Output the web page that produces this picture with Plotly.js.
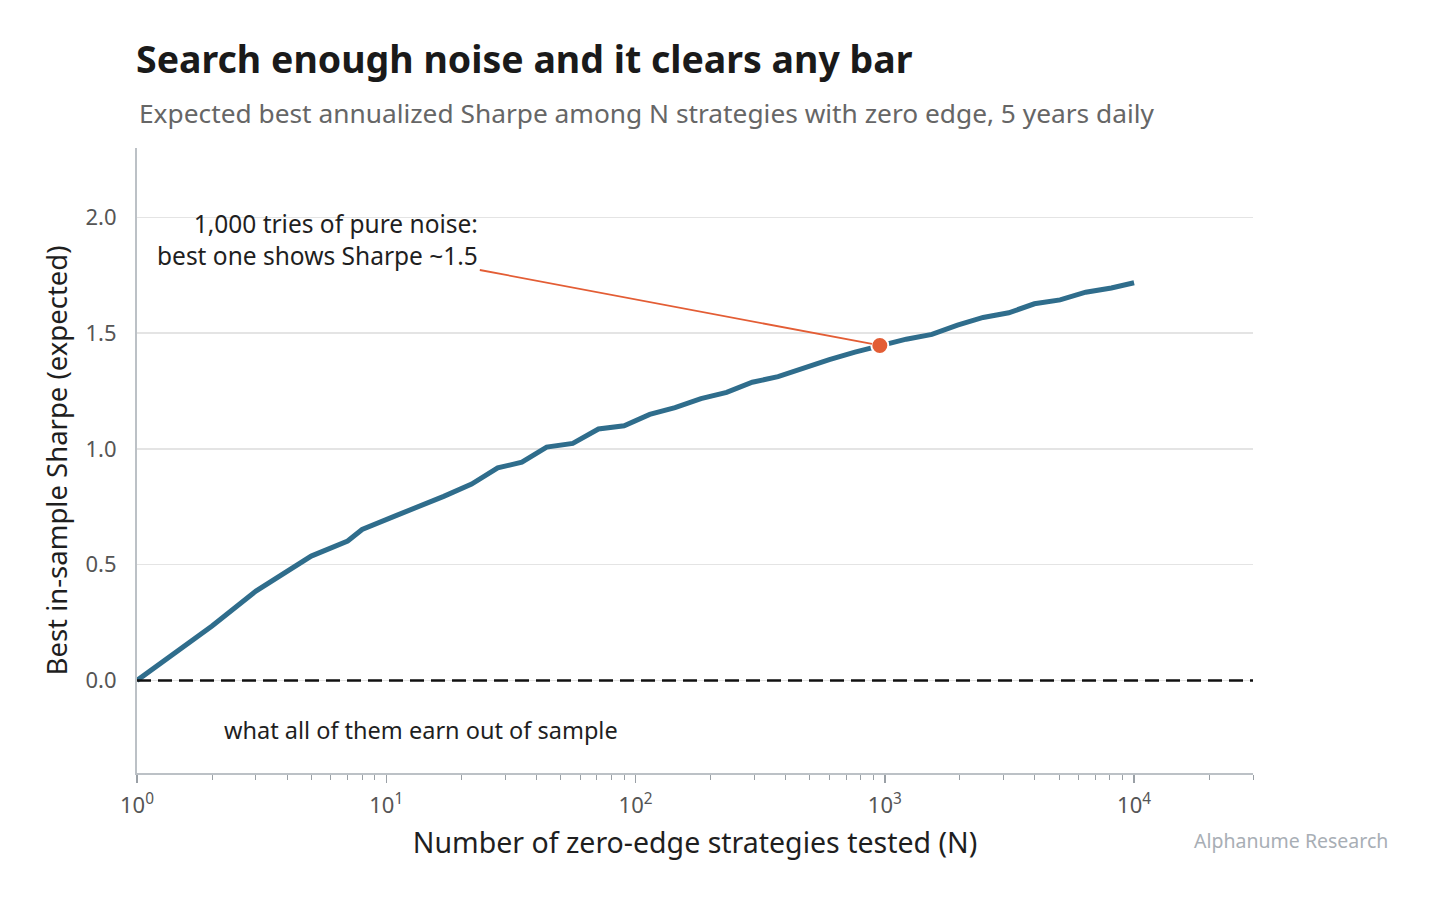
<!DOCTYPE html>
<html>
<head>
<meta charset="utf-8">
<script src="https://cdn.plot.ly/plotly-3.0.1.min.js"></script>
<style>
  html, body { margin: 0; padding: 0; background: #fff; }
  #chart { width: 1434px; height: 905px; }
</style>
</head>
<body>
<div id="chart"></div>
<script>
// N values tested (rounded log-spaced grid)
var nTested = [1, 2, 3, 4, 5, 7, 8, 11, 14, 17, 22, 28, 35, 44, 56, 71, 90,
  114, 144, 183, 232, 294, 373, 472, 599, 759, 962, 1219, 1545, 1957, 2480,
  3143, 3983, 5048, 6397, 8106, 10000];

// expected best in-sample Sharpe
var bestSharpe = [0.00, 0.235, 0.386, 0.472, 0.537, 0.602, 0.652, 0.713, 0.756,
  0.795, 0.848, 0.918, 0.943, 1.008, 1.024, 1.086, 1.100, 1.149, 1.178, 1.217,
  1.244, 1.288, 1.312, 1.351, 1.386, 1.418, 1.448, 1.474, 1.495, 1.535, 1.568,
  1.588, 1.627, 1.644, 1.677, 1.695, 1.718];

// highlighted point
var markN = [955];
var markSharpe = [1.447];

var xTickVals = [1, 10, 100, 1000, 10000];
var xTickText = ['10<sup>0</sup>', '10<sup>1</sup>', '10<sup>2</sup>', '10<sup>3</sup>', '10<sup>4</sup>'];

var minorVals = [];
for (var p = 0; p <= 4; p++) {
  for (var m = 2; m <= 9; m++) {
    if (m * Math.pow(10, p) <= 30000) minorVals.push(m * Math.pow(10, p));
  }
}

var FONT = 'Noto Sans, Open Sans, sans-serif';

var traceLine = {
  x: nTested,
  y: bestSharpe,
  type: 'scatter',
  mode: 'lines',
  line: { color: '#2f6d8c', width: 5 },
  hoverinfo: 'skip'
};

var traceMark = {
  x: markN,
  y: markSharpe,
  type: 'scatter',
  mode: 'markers',
  marker: { color: '#e35d35', size: 17, line: { color: '#ffffff', width: 2 } },
  hoverinfo: 'skip'
};

var layout = {
  width: 1434,
  height: 905,
  paper_bgcolor: '#ffffff',
  plot_bgcolor: '#ffffff',
  showlegend: false,
  margin: { l: 137, r: 181, t: 148, b: 132 },
  font: { family: FONT, color: '#333' },
  title: {
    text: '<b>Search enough noise and it clears any bar</b>',
    font: { family: FONT, size: 37.5, color: '#1a1a1a' },
    x: 136 / 1434, xanchor: 'left', xref: 'container',
    y: 1 - 60 / 905, yanchor: 'middle', yref: 'container'
  },
  xaxis: {
    type: 'log',
    range: [0, Math.log10(30000)],
    tickmode: 'array',
    tickvals: xTickVals,
    ticktext: xTickText,
    ticks: 'outside',
    ticklen: 8,
    tickwidth: 1.5,
    tickcolor: '#9aa0a6',
    ticklabelstandoff: 4,
    tickfont: { size: 22, color: '#555' },
    minor: { ticks: 'outside', ticklen: 5, tickwidth: 1, tickcolor: '#9aa0a6',
      tickmode: 'array', tickvals: minorVals, showgrid: false },
    showline: true,
    linecolor: '#bcc1c6',
    linewidth: 2,
    showgrid: false,
    zeroline: false,
    title: { text: 'Number of zero-edge strategies tested (N)', font: { size: 28.5, color: '#1f1f1f' }, standoff: 15 }
  },
  yaxis: {
    range: [-0.4, 2.3],
    tickvals: [0, 0.5, 1.0, 1.5, 2.0],
    tickformat: '.1f',
    ticks: '',
    ticklabelstandoff: 14,
    tickfont: { size: 22, color: '#555' },
    showline: true,
    linecolor: '#bcc1c6',
    linewidth: 2,
    showgrid: true,
    gridcolor: '#e4e4e4',
    gridwidth: 1.5,
    zeroline: false,
    title: { text: 'Best in-sample Sharpe (expected)', font: { size: 27.5, color: '#1f1f1f' }, standoff: 10 }
  },
  shapes: [
    { type: 'line', xref: 'paper', yref: 'y', x0: 0, x1: 1, y0: 0, y1: 0,
      line: { color: '#111', width: 2.5, dash: '14px,7px' }, layer: 'above' }
  ],
  annotations: [
    { xref: 'paper', yref: 'paper', x: 0, y: 1 + 35 / 625, xanchor: 'left', yanchor: 'middle',
      text: 'Expected best annualized Sharpe among N strategies with zero edge, 5 years daily',
      showarrow: false, font: { size: 26.3, color: '#666' } },
    { x: Math.log10(markN[0]), y: markSharpe[0], xref: 'x', yref: 'y',
      text: '1,000 tries of pure noise:<br>best one shows Sharpe ~1.5',
      align: 'right', showarrow: true, arrowhead: 0, arrowwidth: 1.8, arrowcolor: '#e35d35',
      ax: -562, ay: -106, standoff: 8,
      font: { size: 24.5, color: '#1f1f1f' } },
    { x: Math.log10(2.2), y: -0.215, xref: 'x', yref: 'y', xanchor: 'left', yanchor: 'middle',
      text: 'what all of them earn out of sample', showarrow: false,
      font: { size: 23.5, color: '#1f1f1f' } },
    { xref: 'paper', yref: 'paper', x: (1390 - 137) / 1116, y: -67 / 625, xanchor: 'right', yanchor: 'middle',
      text: 'Alphanume Research', showarrow: false,
      font: { size: 19.5, color: '#a8aeb5' } }
  ]
};

Plotly.newPlot('chart', [traceLine, traceMark], layout, { displayModeBar: false, staticPlot: true });
</script>
</body>
</html>
